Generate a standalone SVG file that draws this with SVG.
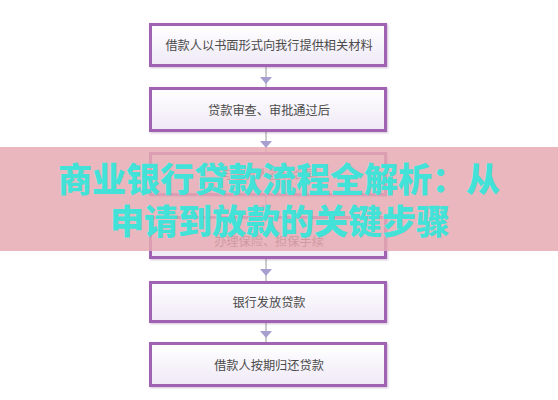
<svg xmlns="http://www.w3.org/2000/svg" width="558" height="400" viewBox="0 0 558 400">
<defs>
<linearGradient id="boxfill" x1="0" y1="0" x2="0" y2="1">
<stop offset="0" stop-color="#ffffff"/>
<stop offset="1" stop-color="#efe9f6"/>
</linearGradient>
<filter id="sh" x="-10%" y="-20%" width="120%" height="150%">
<feGaussianBlur in="SourceAlpha" stdDeviation="1.2"/>
<feOffset dx="0.5" dy="1" result="b"/>
<feFlood flood-color="#7a4a8a" flood-opacity="0.35"/>
<feComposite in2="b" operator="in"/>
<feMerge><feMergeNode/><feMergeNode in="SourceGraphic"/></feMerge>
</filter>
</defs>
<style>
.box{fill:url(#boxfill);stroke:#a063b1;stroke-width:3;filter:url(#sh)}
.lbl{font-family:"Noto Sans CJK SC","Noto Sans",sans-serif;font-size:12.2px;fill:#4a4a4a;text-anchor:middle}
.ln{stroke:#a8a8a8;stroke-width:1.2}
.ah{fill:#a79fcf}
.title{font-family:"Noto Sans CJK SC","Noto Sans",sans-serif;font-size:34px;font-weight:900;fill:#42e2d8;text-anchor:middle}
</style>
<rect width="558" height="400" fill="#ffffff"/>
<g id="connectors">
<line class="ln" x1="266" y1="67" x2="266" y2="87"/><polygon class="ah" points="260,77 272,77 266,84"/>
<line class="ln" x1="266" y1="132" x2="266" y2="152"/><polygon class="ah" points="260,141 272,141 266,148"/>
<line class="ln" x1="266" y1="196" x2="266" y2="216"/><polygon class="ah" points="260,205 272,205 266,212"/>
<line class="ln" x1="266" y1="259" x2="266" y2="281"/><polygon class="ah" points="260,269 272,269 266,276"/>
<line class="ln" x1="266" y1="323" x2="266" y2="342"/><polygon class="ah" points="260,331 272,331 266,338"/>
</g>
<g id="n1"><rect class="box" x="150.5" y="24.5" width="235" height="41"/><text class="lbl" x="269" y="50">借款人以书面形式向我行提供相关材料</text></g>
<g id="n2"><rect class="box" x="150.5" y="88.5" width="235" height="42"/><text class="lbl" x="269" y="115">贷款审查、审批通过后</text></g>
<g id="n3"><rect class="box" x="150.5" y="153.5" width="235" height="41"/><text class="lbl" x="269" y="179">与借款人签订合同</text></g>
<g id="n4"><rect class="box" x="150.5" y="217.5" width="235" height="40"/><text class="lbl" x="269" y="246">办理保险、担保手续</text></g>
<g id="n5"><rect class="box" x="150.5" y="282.5" width="235" height="39"/><text class="lbl" x="269" y="307">银行发放贷款</text></g>
<g id="n6"><rect class="box" x="150.5" y="343.5" width="235" height="42"/><text class="lbl" x="269" y="370">借款人按期归还贷款</text></g>
<g id="banner">
<rect x="0" y="147" width="558" height="104" fill="#e6a9b3" opacity="0.84"/>
<text class="title" x="279" y="192">商业银行贷款流程全解析：从</text>
<text class="title" x="280" y="234">申请到放款的关键步骤</text>
</g>
</svg>
